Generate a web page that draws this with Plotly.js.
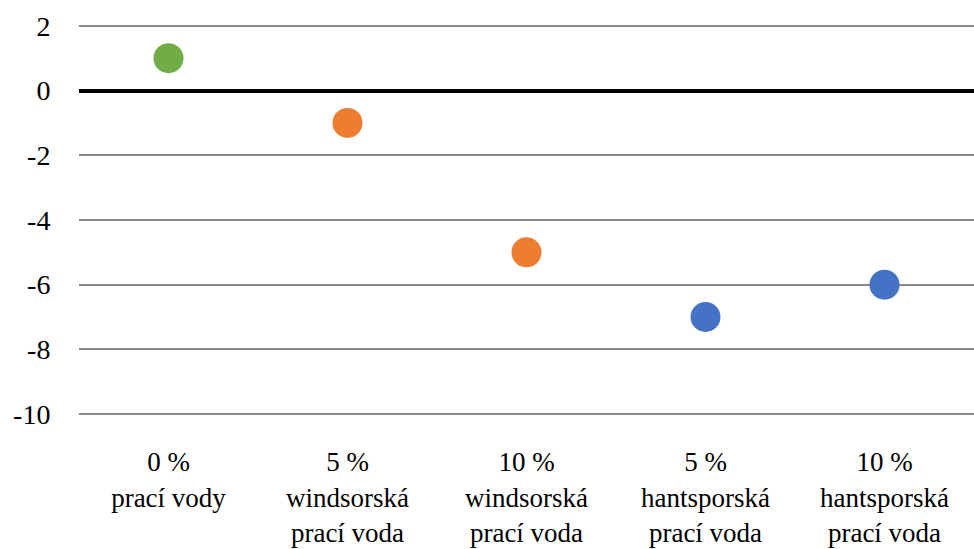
<!DOCTYPE html>
<html><head><meta charset="utf-8">
<script src="https://cdn.plot.ly/plotly-3.0.1.min.js"></script>
</head><body style="margin:0;padding:0;background:#fff"><div id="chart" style="width:974px;height:549px"></div>
<script>
const categories = ["0 %<br>prací vody", "5 %<br>windsorská<br>prací voda", "10 %<br>windsorská<br>prací voda", "5 %<br>hantsporská<br>prací voda", "10 %<br>hantsporská<br>prací voda"];
const values = [1, -1, -5, -7, -6];
const pointColors = ["#70AD47", "#ED7D31", "#ED7D31", "#4472C4", "#4472C4"];
const yTicks = [-10, -8, -6, -4, -2, 0, 2];

const trace = {
  x: categories, y: values, type: "scatter", mode: "markers",
  marker: {size: 30, color: pointColors}, hoverinfo: "none"
};
const layout = {
  width: 974, height: 549,
  margin: {l: 79, r: 0, t: 0, b: 133},
  paper_bgcolor: "#fff", plot_bgcolor: "#fff",
  showlegend: false,
  font: {family: "Times New Roman", size: 27, color: "#000"},
  xaxis: {type: "category", range: [-0.5, 4.5], showgrid: false, zeroline: false, showline: false,
    ticks: "outside", ticklen: 22, tickcolor: "rgba(0,0,0,0)", tickfont: {family: "Times New Roman", size: 27}},
  yaxis: {range: [-10.06, 2.8], tickvals: yTicks, ticktext: yTicks.map(String),
    showgrid: true, gridcolor: "#8a8a8a", gridwidth: 1.5,
    zeroline: true, zerolinecolor: "#000", zerolinewidth: 4, showline: false,
    ticks: "outside", ticklen: 22, tickcolor: "rgba(0,0,0,0)", tickfont: {family: "Times New Roman", size: 28}}
};
function serifAll(gd) {
  gd.querySelectorAll("text, tspan").forEach(function (t) {
    t.style.fontFamily = "'Liberation Serif', 'Times New Roman', serif";
    t.setAttribute("font-family", "Liberation Serif");
  });
}
Plotly.newPlot("chart", [trace], layout, {displayModeBar: false}).then(function (gd) {
  serifAll(gd);
  gd.on("plotly_afterplot", function () { serifAll(gd); });
});
</script></body></html>
